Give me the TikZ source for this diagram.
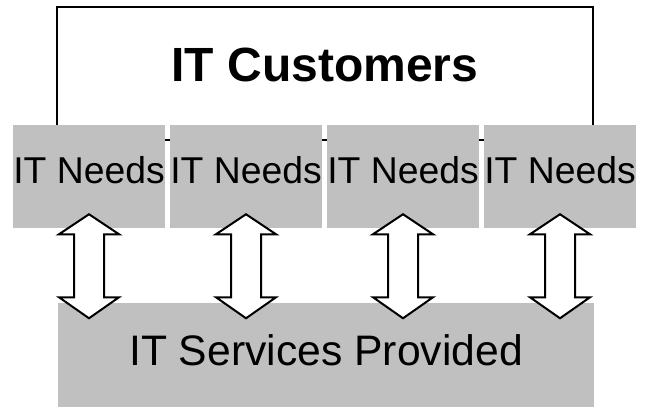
\documentclass[tikz,border=0pt]{standalone}
\usepackage{fontspec}
\setmainfont{Liberation Sans}
\usetikzlibrary{calc}
\definecolor{boxgray}{RGB}{192,192,192}
\tikzset{
  custbox/.style={draw=black, line width=1.5pt, fill=white, inner sep=0pt,
    minimum width=402pt, minimum height=99.75pt},
  needbox/.style={fill=boxgray, draw=none, inner sep=0pt,
    minimum width=114.2pt, minimum height=77.25pt},
  servbox/.style={fill=boxgray, draw=none, inner sep=0pt,
    minimum width=402pt, minimum height=78pt},
  needtext/.style={anchor=base, inner sep=0pt, font=\fontsize{28}{30}\selectfont},
  arrowbody/.style={draw=black, line width=1.5pt, fill=white, line join=miter},
  updown/.pic={
    \path[arrowbody] (0,0) -- (30,20) -- (15,20) -- (15,83) -- (30,83)
      -- (0,104) -- (-30,83) -- (-15,83) -- (-15,20) -- (-30,20) -- cycle;
  }
}
\begin{document}
\begin{tikzpicture}[x=0.75pt, y=-0.75pt]
  \useasboundingbox (0,0) rectangle (648,407);

  % customers box
  \node[custbox] (cust) at (325,73.5) {};
  \node[anchor=base, inner sep=0pt, font=\fontsize{36}{40}\selectfont\bfseries]
    (custtext) at (325,81.7) {IT Customers};

  % needs boxes
  \foreach \i/\cx in {1/89, 2/246, 3/403, 4/560} {
    \node[needbox] (need\i) at (\cx,176.8) {};
    \node[needtext] (needtext\i) at (\cx,183.3) {IT Needs};
  }

  % services box
  \node[servbox] (serv) at (326,355) {};
  \node[anchor=base, inner sep=0pt, font=\fontsize{32}{36}\selectfont]
    (servtext) at (326,365) {IT Services Provided};

  % two-way arrows between each needs box and the services box
  \foreach \i in {1,2,3,4} {
    \pic at ($(need\i.south)+(0,-14.3)$) {updown};
  }
\end{tikzpicture}
\end{document}
